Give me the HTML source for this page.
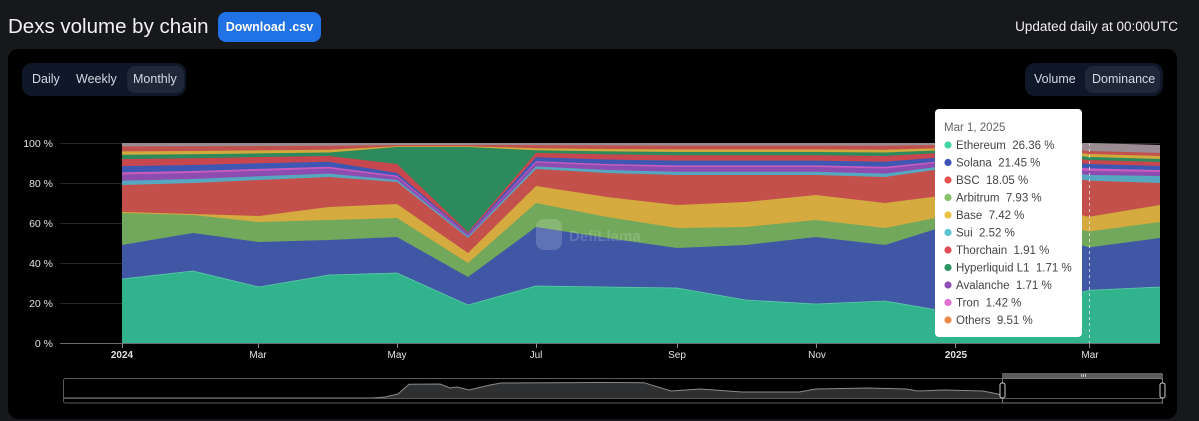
<!DOCTYPE html>
<html><head><meta charset="utf-8"><style>
html,body{margin:0;padding:0;background:#17181b;width:1199px;height:421px;overflow:hidden;font-family:"Liberation Sans",sans-serif;}
.abs{position:absolute;}
</style></head><body>
<div class="abs" style="left:0;top:0;width:1199px;height:421px;background:#17181b;"></div>
<div class="abs" style="left:8px;top:13px;font-size:20.5px;color:#f2f2f2;line-height:28px;white-space:nowrap;">Dexs volume by chain</div>
<div class="abs" style="left:218px;top:12px;width:103px;height:30px;border-radius:8px;background:#2172e5;color:#fff;font-size:12.5px;font-weight:bold;line-height:30px;text-align:center;">Download .csv</div>
<div class="abs" style="right:21px;top:18px;font-size:13.5px;color:#f0f0f0;line-height:18px;white-space:nowrap;">Updated daily at 00:00UTC</div>
<div class="abs" style="left:8px;top:49px;width:1169px;height:370px;background:#000;border-radius:10px;"></div>
<!-- toggles -->
<div class="abs" style="left:22px;top:63px;width:164px;height:33px;background:#0f1828;border-radius:10px;"></div>
<div class="abs" style="left:127px;top:66px;width:57px;height:27px;background:#1f2838;border-radius:8px;"></div>
<div class="abs" style="left:32px;top:71px;font-size:12.5px;color:#d3d9e4;line-height:16px;">Daily</div>
<div class="abs" style="left:76px;top:71px;font-size:12.5px;color:#d3d9e4;line-height:16px;">Weekly</div>
<div class="abs" style="left:133px;top:71px;font-size:12.5px;color:#d3d9e4;line-height:16px;">Monthly</div>
<div class="abs" style="left:1025px;top:63px;width:138px;height:33px;background:#0f1828;border-radius:10px;"></div>
<div class="abs" style="left:1085px;top:66px;width:75px;height:27px;background:#1f2838;border-radius:8px;"></div>
<div class="abs" style="left:1034px;top:71px;font-size:12.5px;color:#d3d9e4;line-height:16px;">Volume</div>
<div class="abs" style="left:1092px;top:71px;font-size:12.5px;color:#d3d9e4;line-height:16px;">Dominance</div>

<svg class="abs" style="left:0;top:0" width="1199" height="421" viewBox="0 0 1199 421" xmlns="http://www.w3.org/2000/svg" font-family="Liberation Sans, sans-serif">
<!-- grid -->
<g stroke="#262626" stroke-width="1">
<line x1="60" y1="143.5" x2="1160" y2="143.5"/>
<line x1="60" y1="183.5" x2="1160" y2="183.5"/>
<line x1="60" y1="223.5" x2="1160" y2="223.5"/>
<line x1="60" y1="263.5" x2="1160" y2="263.5"/>
<line x1="60" y1="303.5" x2="1160" y2="303.5"/>
</g>
<g font-size="10.5" fill="#e2e2e2" text-anchor="end">
<text x="53" y="147">100 %</text>
<text x="53" y="187">80 %</text>
<text x="53" y="227">60 %</text>
<text x="53" y="267">40 %</text>
<text x="53" y="307">20 %</text>
<text x="53" y="347">0 %</text>
</g>
<!-- layers, top-most first -->
<path fill="#9a8c92" d="M122,143 L193,143 L259,143 L329,143 L397,143 L468,143 L536,143 L607,143 L677,143 L746,143 L816,143 L885,143 L955,143 L1026,143 L1089,143 L1160,145 L1160,343 L122,343 Z"/>
<path fill="#c2514e" d="M122,146.4 L193,146.2 L259,146 L329,145.7 L397,145 L468,145 L536,145.1 L607,145.4 L677,145.6 L746,145.6 L816,145.6 L885,145.7 L955,144.9 L1026,145.2 L1089,151 L1160,153 L1160,343 L122,343 Z"/>
<path fill="#d2aa3c" d="M122,151.4 L193,151 L259,150.4 L329,149.8 L397,146.2 L468,146.2 L536,148.2 L607,149 L677,149.4 L746,149.4 L816,149.4 L885,149.8 L955,147.8 L1026,148.6 L1089,154 L1160,156 L1160,343 L122,343 Z"/>
<path fill="#2c8a5d" d="M122,154.8 L193,154.2 L259,153.4 L329,152.5 L397,147 L468,147 L536,150.3 L607,151.4 L677,152 L746,152 L816,152 L885,152.5 L955,149.7 L1026,150.8 L1089,157 L1160,159 L1160,343 L122,343 Z"/>
<path fill="#c8474f" d="M122,159 L193,158.2 L259,157 L329,156 L397,164 L468,232 L536,152.9 L607,154.4 L677,155.2 L746,155.2 L816,155.2 L885,156 L955,152.1 L1026,153.6 L1089,160 L1160,162 L1160,343 L122,343 Z"/>
<path fill="#3e57b3" d="M122,166.1 L193,165 L259,163.3 L329,161.7 L397,173 L468,233.4 L536,157.3 L607,159.5 L677,160.6 L746,160.6 L816,160.6 L885,161.7 L955,156.2 L1026,158.4 L1089,164 L1160,166 L1160,343 L122,343 Z"/>
<path fill="#c95bbf" d="M122,172.4 L193,171 L259,168.9 L329,166.8 L397,175.6 L468,234.4 L536,161.2 L607,164 L677,165.4 L746,165.4 L816,165.4 L885,166.8 L955,159.8 L1026,162.6 L1089,168.4 L1160,170 L1160,343 L122,343 Z"/>
<path fill="#8d4db0" d="M122,174.5 L193,173 L259,170.7 L329,168.5 L397,177 L468,235 L536,162.5 L607,165.5 L677,167 L746,167 L816,167 L885,168.5 L955,161 L1026,164 L1089,171 L1160,172 L1160,343 L122,343 Z"/>
<path fill="#56a8c0" d="M122,180.8 L193,179 L259,176.3 L329,173.6 L397,180 L468,236.4 L536,166.4 L607,170 L677,171.8 L746,171.8 L816,171.8 L885,173.6 L955,164.6 L1026,168.2 L1089,175 L1160,176 L1160,343 L122,343 Z"/>
<path fill="#c4504c" d="M122,185 L193,183 L259,180 L329,177 L397,182 L468,238 L536,169 L607,173 L677,175 L746,175 L816,175 L885,177 L955,167 L1026,171 L1089,180.6 L1160,183 L1160,343 L122,343 Z"/>
<path fill="#d5ab3f" d="M122,212 L193,214 L259,216 L329,207 L397,204 L468,253 L536,186 L607,197 L677,205 L746,202 L816,195 L885,203 L955,194 L1026,203 L1089,216.7 L1160,205 L1160,343 L122,343 Z"/>
<path fill="#71a85b" d="M122,213 L193,215 L259,222 L329,220 L397,218 L468,263 L536,203 L607,217 L677,228 L746,227 L816,220 L885,228 L955,214 L1026,219 L1089,231.5 L1160,222 L1160,343 L122,343 Z"/>
<path fill="#4057a5" d="M122,245 L193,233 L259,242 L329,240 L397,237 L468,277 L536,227 L607,238 L677,248 L746,245 L816,237 L885,245 L955,223 L1026,229 L1089,247.4 L1160,238 L1160,343 L122,343 Z"/>
<path fill="#31b48d" d="M122,279 L193,271 L259,287 L329,275 L397,273 L468,305 L536,286 L607,287 L677,288 L746,300 L816,304 L885,301 L955,313 L1026,307 L1089,290.3 L1160,287 L1160,343 L122,343 Z"/>
<polyline fill="none" stroke="#5fc9a8" stroke-width="0.8" points="122,279 193,271 259,287 329,275 397,273 468,305 536,286 607,287 677,288 746,300 816,304 885,301 955,313 1026,307 1089,290.3 1160,287"/>
<!-- watermark -->
<g opacity="0.16">
<rect x="536" y="219" width="26" height="31" rx="8" fill="#fff"/>
<text x="569" y="241" font-size="15" font-weight="bold" fill="#fff">DefiLlama</text>
</g>
<!-- x axis -->
<line x1="60" y1="343.5" x2="1160" y2="343.5" stroke="#6a6a6a" stroke-width="1"/>
<g stroke="#8a8a8a" stroke-width="1">
<line x1="122.5" y1="343" x2="122.5" y2="348"/>
<line x1="258.5" y1="343" x2="258.5" y2="348"/>
<line x1="397.5" y1="343" x2="397.5" y2="348"/>
<line x1="536.5" y1="343" x2="536.5" y2="348"/>
<line x1="677.5" y1="343" x2="677.5" y2="348"/>
<line x1="816.5" y1="343" x2="816.5" y2="348"/>
<line x1="955.5" y1="343" x2="955.5" y2="348"/>
<line x1="1089.5" y1="343" x2="1089.5" y2="348"/>
</g>
<g font-size="10" fill="#e2e2e2" text-anchor="middle">
<text x="122" y="358" font-weight="bold">2024</text>
<text x="258" y="358">Mar</text>
<text x="397" y="358">May</text>
<text x="536" y="358">Jul</text>
<text x="677" y="358">Sep</text>
<text x="817" y="358">Nov</text>
<text x="956" y="358" font-weight="bold">2025</text>
<text x="1090" y="358">Mar</text>
</g>
<!-- crosshair -->
<line x1="1089.5" y1="143" x2="1089.5" y2="343" stroke="#e8e8e8" stroke-width="1" stroke-dasharray="3,3" opacity="0.8"/>
<!-- tooltip -->
<rect x="935" y="109" width="147" height="228" rx="4" fill="#ffffff"/>
<text x="944" y="131" font-size="11.5" fill="#666">Mar 1, 2025</text>
<g font-size="11.5" fill="#444" style="white-space:pre">
<circle cx="948" cy="145" r="3.6" fill="#3fd6a0"/><text x="956" y="149" xml:space="preserve">Ethereum  26.36 %</text>
<circle cx="948" cy="162.5" r="3.6" fill="#3f52b8"/><text x="956" y="166.5" xml:space="preserve">Solana  21.45 %</text>
<circle cx="948" cy="180" r="3.6" fill="#e2544f"/><text x="956" y="184" xml:space="preserve">BSC  18.05 %</text>
<circle cx="948" cy="197.5" r="3.6" fill="#86c06a"/><text x="956" y="201.5" xml:space="preserve">Arbitrum  7.93 %</text>
<circle cx="948" cy="215" r="3.6" fill="#ecc340"/><text x="956" y="219" xml:space="preserve">Base  7.42 %</text>
<circle cx="948" cy="232.5" r="3.6" fill="#5cc3d2"/><text x="956" y="236.5" xml:space="preserve">Sui  2.52 %</text>
<circle cx="948" cy="250" r="3.6" fill="#e04d58"/><text x="956" y="254" xml:space="preserve">Thorchain  1.91 %</text>
<circle cx="948" cy="267.5" r="3.6" fill="#2d9362"/><text x="956" y="271.5" xml:space="preserve">Hyperliquid L1  1.71 %</text>
<circle cx="948" cy="285" r="3.6" fill="#8e50b7"/><text x="956" y="289" xml:space="preserve">Avalanche  1.71 %</text>
<circle cx="948" cy="302.5" r="3.6" fill="#e36fd3"/><text x="956" y="306.5" xml:space="preserve">Tron  1.42 %</text>
<circle cx="948" cy="320" r="3.6" fill="#f08a4b"/><text x="956" y="324" xml:space="preserve">Others  9.51 %</text>
</g>
<!-- brush / slider -->
<path fill="#2e2f31" stroke="none" d="M63,398 L373,398 L385,397 L398,394 L409,384.3 L440,384 L450,388 L457,387 L469,390 L490,385 L501,383 L600,382.5 L644,382.7 L671,391 L700,389 L742,392 L799,392 L816,389 L868,388 L906,389 L918,391 L944,390 L983,391 L998,394 L1002,396 L1002,398 Z"/>
<polyline fill="none" stroke="#8a8a8a" stroke-width="1" points="63,398 373,398 385,397 398,394 409,384.3 440,384 450,388 457,387 469,390 490,385 501,383 600,382.5 644,382.7 671,391 700,389 742,392 799,392 816,389 868,388 906,389 918,391 944,390 983,391 998,394 1002,396"/>
<rect x="63.5" y="378.5" width="1099" height="24.5" fill="none" stroke="#5a5a5a" stroke-width="1" rx="2"/>
<line x1="63" y1="398.5" x2="1163" y2="398.5" stroke="#555" stroke-width="1"/>
<rect x="1002.5" y="378.5" width="160" height="24.5" fill="none" stroke="#777" stroke-width="1"/>
<rect x="1002" y="373" width="161" height="5" fill="#5c5c5c" rx="1"/>
<g stroke="#ddd" stroke-width="0.8"><line x1="1081.5" y1="374" x2="1081.5" y2="377"/><line x1="1083.5" y1="374" x2="1083.5" y2="377"/><line x1="1085.5" y1="374" x2="1085.5" y2="377"/></g>
<rect x="1000" y="383" width="5" height="15" rx="2" fill="#000" stroke="#cfcfcf" stroke-width="1"/>
<rect x="1160" y="383" width="5" height="15" rx="2" fill="#000" stroke="#cfcfcf" stroke-width="1"/>
</svg>
</body></html>
